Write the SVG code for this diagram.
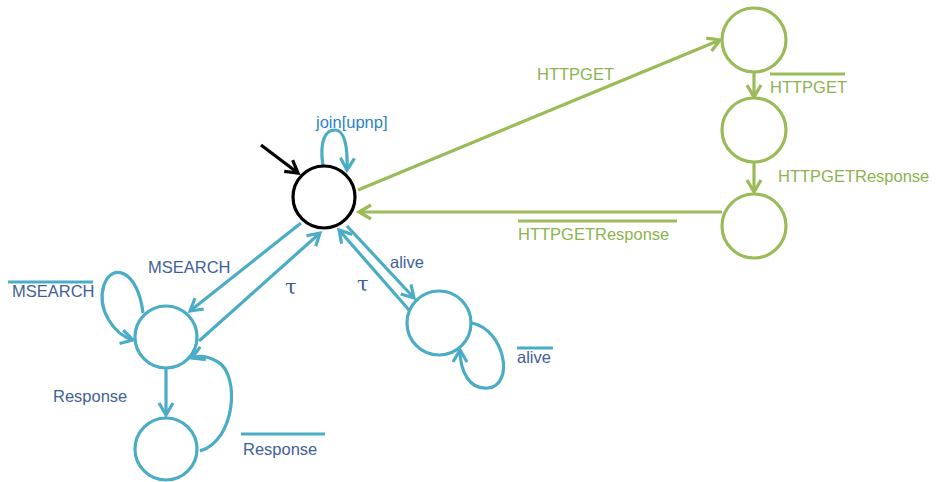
<svg xmlns="http://www.w3.org/2000/svg" width="938" height="482" viewBox="0 0 938 482">
<defs>
<style>
.node{fill:#fff;stroke-width:3.2}
.t{stroke:#4bacc6}
.g{stroke:#9bbb59}
.b{stroke:#000}
.e{fill:none;stroke-width:3.2}
.lab{font-family:"Liberation Sans",Arial,sans-serif;font-size:16.5px}
.tau{font-family:"DejaVu Serif","Liberation Serif",serif;font-size:21px}
.lb{fill:#3d5f99}
.lj{fill:#2a83c8}
.lg{fill:#8db24f}
.ol{stroke-width:3}
</style>
<marker id="at" markerUnits="userSpaceOnUse" markerWidth="30" markerHeight="30" viewBox="-15 -15 30 30" refX="0" refY="0" orient="auto"><path d="M-12,-7 L0,0 L-12,7" fill="none" stroke="#4bacc6" stroke-width="3.2"/></marker>
<marker id="ag" markerUnits="userSpaceOnUse" markerWidth="30" markerHeight="30" viewBox="-15 -15 30 30" refX="0" refY="0" orient="auto"><path d="M-12,-7 L0,0 L-12,7" fill="none" stroke="#9bbb59" stroke-width="3.2"/></marker>
<marker id="ab" markerUnits="userSpaceOnUse" markerWidth="30" markerHeight="30" viewBox="-15 -15 30 30" refX="0" refY="0" orient="auto"><path d="M-12,-7 L0,0 L-12,7" fill="none" stroke="#000" stroke-width="3.2"/></marker>
</defs>
<rect width="938" height="482" fill="#fff"/>
<g id="connectors">
<path class="e b" d="M261,145 L298,173" marker-end="url(#ab)"/>
<path class="e t" d="M323,166 C319,140 326,130 335,130 C344,130 348,145 347,170" marker-end="url(#at)"/>
<path class="e t" d="M301,223 L190,311" marker-end="url(#at)"/>
<path class="e t" d="M199,341 L320,233" marker-end="url(#at)"/>
<path class="e t" d="M347,226 L414,298" marker-end="url(#at)"/>
<path class="e t" d="M409,310 L339,230" marker-end="url(#at)"/>
<path class="e t" d="M143,313 C138,270 112,262 104,285 C96,310 115,335 133,340" marker-end="url(#at)"/>
<path class="e t" d="M166,368 L166,415" marker-end="url(#at)"/>
<path class="e t" d="M200,451 C236,440 240,375 218,362 C208,356 199,355 192,358" marker-end="url(#at)"/>
<path class="e t" d="M472,323 C505,330 515,385 488,388 C470,390 460,372 460,350" marker-end="url(#at)"/>
<path class="e g" d="M358,190 L720,40" marker-end="url(#ag)"/>
<path class="e g" d="M754,72 L754,97" marker-end="url(#ag)"/>
<path class="e g" d="M754,162 L754,192" marker-end="url(#ag)"/>
<path class="e g" d="M722,212 L359,212" marker-end="url(#ag)"/>
</g>
<g id="n_init"><circle class="node b" cx="324" cy="197" r="31"/></g>
<g id="n_msearch"><circle class="node t" cx="166" cy="337" r="31"/></g>
<g id="n_response"><circle class="node t" cx="166" cy="449" r="31"/></g>
<g id="n_alive"><circle class="node t" cx="439" cy="323" r="32"/></g>
<g id="n_get1"><circle class="node g" cx="754" cy="40" r="32"/></g>
<g id="n_get2"><circle class="node g" cx="754" cy="130" r="32"/></g>
<g id="n_get3"><circle class="node g" cx="754" cy="226" r="32"/></g>
<g id="labels">
<text class="lab lj" x="316" y="128">join[upnp]</text>
<text class="lab lb" x="148" y="273">MSEARCH</text>
<text class="tau lb" x="285" y="294">τ</text>
<text class="tau lb" x="357" y="291">τ</text>
<text class="lab lb" x="390" y="268">alive</text>
<line class="ol t" x1="8" y1="282" x2="93" y2="282"/>
<text class="lab lb" x="12" y="297">MSEARCH</text>
<text class="lab lb" x="53" y="402">Response</text>
<line class="ol t" x1="241" y1="434" x2="325" y2="434"/>
<text class="lab lb" x="243" y="455">Response</text>
<line class="ol t" x1="517" y1="348" x2="553" y2="348"/>
<text class="lab lb" x="517" y="363">alive</text>
<text class="lab lg" x="537" y="80">HTTPGET</text>
<line class="ol g" x1="770" y1="74" x2="845" y2="74"/>
<text class="lab lg" x="770" y="93">HTTPGET</text>
<text class="lab lg" x="778" y="182">HTTPGETResponse</text>
<line class="ol g" x1="518" y1="221" x2="677" y2="221"/>
<text class="lab lg" x="518" y="240">HTTPGETResponse</text>
</g>
</svg>
